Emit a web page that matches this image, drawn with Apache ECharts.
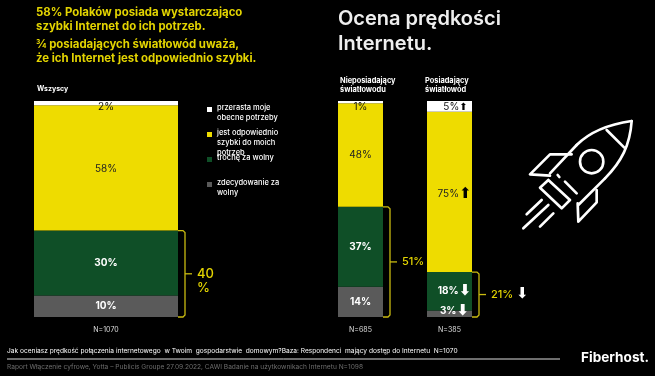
<!DOCTYPE html>
<html>
<head>
<meta charset="utf-8">
<style>
html, body { margin: 0; background: #000; }
#chart { width: 655px; height: 376px; }
</style>
<script src="https://cdn.jsdelivr.net/npm/echarts@6/dist/echarts.min.js"></script>
</head>
<body>
<div id="chart"></div>
<script>
const chart = echarts.init(document.getElementById('chart'));
const font = 'Inter';

// od gory slupka do dolu
const segments = ['przerasta moje', 'jest odpowiednio', 'trochę za wolny', 'zdecydowanie za'];
const segmentLines = [
    'przerasta moje\nobecne potrzeby',
    'jest odpowiednio\nszybki do moich\npotrzeb',
    'trochę za wolny',
    'zdecydowanie za\nwolny'
];
const colors = ['#ffffff', '#eedc00', '#0f4f27', '#5a5a5a'];
const labelColors = ['#111', '#222', '#fff', '#fff'];

const groups = ['N=1070', 'N=685', 'N=385'];
const allValues = [2, 58, 30, 10];
const noFiberValues = [1, 48, 37, 14];
const fiberValues = [5, 75, 18, 3];
const groupValues = [allValues, noFiberValues, fiberValues];
const fiberArrows = ['⬆', '⬆', '⬇', '⬇'];
const bracketLabels = ['40\n%', '51%', '21%'];

const grids = [
    { left: 34, width: 144, top: 101, height: 216 },
    { left: 338, width: 45, top: 101, height: 216 },
    { left: 427, width: 45, top: 101, height: 216 }
];
// przesuniecie etykiet malych segmentow
const labelOffsets = [
    [[0, 4], [0, 1], [0, 0], [0, 0]],
    [[0, 5], [0, 0], [0, 0], [0, 0]],
    [[6, 1], [5, 2], [5, 0], [5, -3]]
];

let series = [];
groupValues.forEach((values, g) => {
    for (let i = values.length - 1; i >= 0; i--) {
        const base = { color: labelColors[i], fontFamily: font, fontSize: 10, fontWeight: i > 1 ? 'bold' : 'normal' };
        series.push({
            name: segments[i],
            type: 'bar',
            stack: 'g' + g,
            xAxisIndex: g,
            yAxisIndex: g,
            barWidth: '100%',
            data: [values[i]],
            itemStyle: { color: colors[i] },
            label: Object.assign({
                show: true,
                position: 'inside',
                offset: labelOffsets[g][i],
                formatter: g == 2 ? `{t|${values[i]}%}{a|${fiberArrows[i]}}` : values[i] + '%',
                rich: {
                    t: base,
                    a: { color: i < 2 ? '#000' : '#fff', fontSize: i == 0 ? 10 : 15, fontFamily: 'DejaVu Sans' }
                }
            }, base)
        });
    }
});

// legenda - kazda pozycja osobno, bo odstepy sa rowne mimo roznej liczby linii
const legendTops = [103, 128, 153, 178];
const legendHeights = [20, 30, 10, 20];
const legends = segments.map((name, i) => ({
    data: [name],
    left: 207,
    top: legendTops[i],
    orient: 'vertical',
    padding: 0,
    itemWidth: 5,
    itemHeight: legendHeights[i],
    itemGap: 0,
    selectedMode: false,
    icon: 'path://M0 4h5v5h-5zM0 0h0.01v0.01h-0.01zM0 ' + (legendHeights[i] - 0.01) + 'h0.01v0.01h-0.01z',
    formatter: () => segmentLines[i],
    textStyle: { color: '#fff', fontFamily: font, fontSize: 7.5, fontWeight: 500, lineHeight: 10 }
}));

function text(x, y, str, size, color, weight, extra) {
    return {
        type: 'text', x: x, y: y, silent: true,
        style: Object.assign({
            text: str, fill: color, font: (weight || 'normal') + ' ' + size + 'px ' + font,
            verticalAlign: 'middle'
        }, extra)
    };
}

const yellowText = '#e3d400';
const texts = [
    text(36, 20, '58% Polaków posiada wystarczająco\nszybki Internet do ich potrzeb.', 11.4, yellowText, 'bold', { lineHeight: 14 }),
    text(36, 51.5, '¾ posiadających światłowód uważa,\nże ich Internet jest odpowiednio szybki.', 11.4, yellowText, 'bold', { lineHeight: 14 }),
    text(338, 31, 'Ocena prędkości\nInternetu.', 20, '#eeeeee', '600', { lineHeight: 25 }),
    text(37, 89, 'Wszyscy', 7, '#fff', 'bold'),
    text(340, 85, 'Nieposiadający\nświatłowodu', 7.4, '#fff', 'bold', { lineHeight: 9 }),
    text(425, 85, 'Posiadający\nświatłowód', 7.4, '#fff', 'bold', { lineHeight: 9 }),
    text(7, 351, 'Jak oceniasz prędkość połączenia internetowego  w Twoim  gospodarstwie  domowym?Baza: Respondenci  mający dostęp do Internetu  N=1070', 6.6, '#fff'),
    text(7, 367, 'Raport Włączenie cyfrowe, Yotta – Publicis Groupe 27.09.2022, CAWI Badanie na użytkownikach Internetu N=1098', 6.6, '#6e6e6e'),
    text(581, 358, 'Fiberhost.', 13.6, '#fff', 'bold')
];

const footerLine = {
    type: 'line', silent: true,
    shape: { x1: 7, y1: 359, x2: 560, y2: 359 },
    style: { stroke: '#ddd', lineWidth: 1 }
};

// rakieta rysowana w powiekszonych wspolrzednych, stad scale
const rocketStroke = { fill: null, stroke: '#fff', lineWidth: 8, lineCap: 'round', lineJoin: 'round' };
const rocketLines = [
    [[270, 190], [190, 270]],
    [[185, 90], [105, 175]],
    [[275, 45], [328, 98]],
    [[170, 118], [105, 118], [45, 178], [105, 182]],
    [[245, 225], [245, 262], [190, 320], [188, 265]],
    [[100, 195], [75, 218], [140, 280], [165, 255], [100, 195]],
    [[150, 200], [185, 235]],
    [[128, 180], [133, 186]],
    [[80, 255], [35, 298]],
    [[100, 270], [25, 340]],
    [[115, 295], [75, 335]]
];
const rocket = {
    type: 'group', x: 515, y: 115, scaleX: 1 / 3, scaleY: 1 / 3, silent: true,
    children: rocketLines.map(pts => ({
        type: 'polyline', shape: { points: pts }, style: rocketStroke
    })).concat([
        { type: 'bezierCurve', shape: { x1: 350, y1: 18, cpx1: 345, cpy1: 90, cpx2: 320, cpy2: 140, x2: 270, y2: 190 }, style: rocketStroke },
        { type: 'bezierCurve', shape: { x1: 350, y1: 18, cpx1: 280, cpy1: 28, cpx2: 225, cpy2: 50, x2: 185, y2: 90 }, style: rocketStroke },
        { type: 'circle', shape: { cx: 230, cy: 140, r: 35 }, style: rocketStroke }
    ])
};

chart.setOption({
    backgroundColor: '#000',
    animation: false,
    legend: legends,
    grid: grids,
    xAxis: grids.map((g, i) => ({
        type: 'category',
        gridIndex: i,
        data: [groups[i]],
        axisLine: { show: false },
        axisTick: { show: false },
        axisLabel: { color: '#ddd', fontFamily: font, fontSize: 7, margin: 9 }
    })),
    yAxis: groupValues.map((values, i) => ({
        type: 'value',
        gridIndex: i,
        min: 0,
        max: values.reduce((a, b) => a + b, 0),
        show: false
    })),
    series: series
});

// klamry liczone ze skali osi
const brackets = groupValues.map((values, i) => {
    const low = values[2] + values[3];
    const y0 = chart.convertToPixel({ yAxisIndex: i }, low);
    const y1 = chart.convertToPixel({ yAxisIndex: i }, 0);
    const xa = grids[i].left + grids[i].width;
    const xb = xa + 7;
    const mid = (y0 + y1) / 2;
    const bracketStyle = { fill: null, stroke: '#c9bb10', lineWidth: 1.3 };
    const items = [
        {
            type: 'polyline', silent: true,
            shape: { points: [[xa, y0], [xb - 2, y0], [xb, y0 + 2], [xb, y1 - 2], [xb - 2, y1], [xa, y1]] },
            style: bracketStyle
        },
        { type: 'line', silent: true, shape: { x1: xb, y1: mid, x2: xb + 7, y2: mid }, style: bracketStyle }
    ];
    const size = i == 0 ? 13 : 11;
    // w "40 %" pierwsza linia stoi na wysokosci kreski
    items.push(text(xb + 12, i == 0 ? mid + 7 : mid, bracketLabels[i], size, yellowText, '500', { lineHeight: 14 }));
    if (i == 2) items.push({
        type: 'text', x: xb + 37, y: mid, silent: true,
        style: { text: '⬇', fill: '#fff', font: '15px "DejaVu Sans"', verticalAlign: 'middle' }
    });
    return items;
});

chart.setOption({
    graphic: [{ type: 'group', children: texts.concat([footerLine, rocket], brackets.flat()) }]
});
</script>
</body>
</html>
